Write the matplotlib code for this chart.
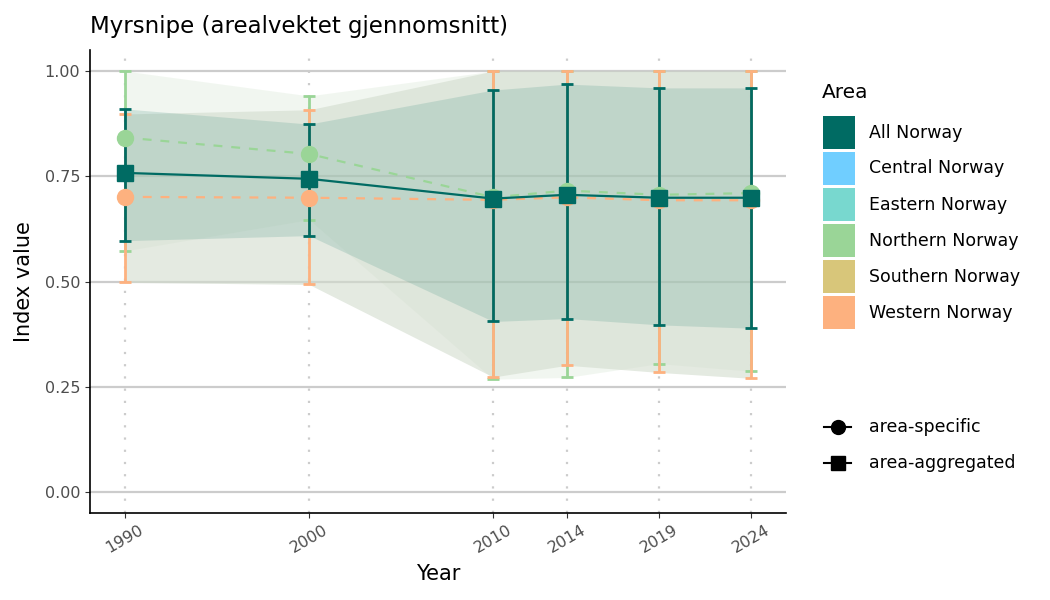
import matplotlib
matplotlib.use("Agg")
import matplotlib.pyplot as plt
from matplotlib.patches import Rectangle
from matplotlib.lines import Line2D

plt.rcParams['font.family'] = ['DejaVu Sans']

years = [1990, 2000, 2010, 2014, 2019, 2024]

all_mean = [0.758, 0.744, 0.697, 0.706, 0.699, 0.699]
all_lo = [0.597, 0.609, 0.405, 0.412, 0.397, 0.389]
all_hi = [0.910, 0.874, 0.955, 0.969, 0.960, 0.960]

north_mean = [0.842, 0.803, 0.700, 0.716, 0.706, 0.710]
north_lo = [0.573, 0.647, 0.268, 0.272, 0.305, 0.287]
north_hi = [1.000, 0.941, 1.000, 1.000, 1.000, 1.000]

west_mean = [0.701, 0.699, 0.694, 0.700, 0.693, 0.693]
west_lo = [0.498, 0.493, 0.273, 0.301, 0.284, 0.270]
west_hi = [0.898, 0.908, 1.000, 1.000, 1.000, 1.000]

area_names = ["All Norway", "Central Norway", "Eastern Norway",
              "Northern Norway", "Southern Norway", "Western Norway"]
area_colors = ["#006B63", "#70CEFF", "#78D8CF", "#9AD597", "#D8C67A", "#FDB17F"]

type_names = ["area-specific", "area-aggregated"]
type_markers = ["o", "s"]

title = "Myrsnipe (arealvektet gjennomsnitt)"

c_all = area_colors[0]
c_north = area_colors[3]
c_west = area_colors[5]

W, H = 1050, 600
fig = plt.figure(figsize=(10.5, 6), dpi=100)
ax = fig.add_axes([90/W, 1-513/H, (786-90)/W, (513-50)/H])

# grid
for yv in [0, 0.25, 0.5, 0.75, 1.0]:
    ax.axhline(yv, color="#CCCCCC", lw=1.6, zorder=0)
for xv in years:
    ax.axvline(xv, color="#CCCCCC", lw=1.6, ls=(0, (1, 4.5)), zorder=0)

# ribbons
ax.fill_between(years, north_lo, north_hi, color="#7FB070", alpha=0.1, lw=0, zorder=1)
ax.fill_between(years, west_lo, west_hi, color="#D2DCCD", alpha=0.6, lw=0, zorder=1)
ax.fill_between(years, all_lo, all_hi, color="#479385", alpha=0.2, lw=0, zorder=1)

# error bars
def eb(mean, lo, hi, color, z):
    ax.errorbar(years, mean,
                yerr=[[m - l for m, l in zip(mean, lo)], [h - m for m, h in zip(mean, hi)]],
                fmt='none', ecolor=color, elinewidth=2, capsize=4.5, capthick=2, zorder=z)

eb(north_mean, north_lo, north_hi, c_north, 2)
eb(west_mean, west_lo, west_hi, c_west, 3)
eb(all_mean, all_lo, all_hi, c_all, 4)

ax.plot(years, north_mean, color=c_north, lw=1.6, ls=(0, (4, 4)), zorder=5)
ax.plot(years, north_mean, color=c_north, lw=0, marker='o', ms=11.5, zorder=6)
ax.plot(years, west_mean, color=c_west, lw=1.6, ls=(0, (4, 4)), zorder=5)
ax.plot(years, west_mean, color=c_west, lw=0, marker='o', ms=11.5, zorder=6)
ax.plot(years, all_mean, color=c_all, lw=1.6, marker='s', ms=11, zorder=7)

ax.set_xlim(1988.1, 2025.9)
ax.set_ylim(-0.05, 1.05)
ax.set_xticks(years)
ax.set_xticklabels([str(y) for y in years], rotation=30, fontsize=11.5, color="#4D4D4D")
ax.set_yticks([0, 0.25, 0.5, 0.75, 1.0])
ax.set_yticklabels(["0.00", "0.25", "0.50", "0.75", "1.00"], fontsize=11.5, color="#4D4D4D")
ax.tick_params(axis='both', length=3.5, color="#333333", width=0.8)
for s in ["top", "right"]:
    ax.spines[s].set_visible(False)
for s in ["left", "bottom"]:
    ax.spines[s].set_linewidth(1.2)
ax.set_xlabel("Year", fontsize=15, labelpad=6)
ax.set_ylabel("Index value", fontsize=15, labelpad=8)
ax.set_title(title, loc="left", fontsize=16.5, pad=12)

# legend: Area (manual layout in figure pixels)
def fx(px):
    return px / W

def fy(py):
    return 1 - py / H

fig.text(fx(822), fy(92), "Area", fontsize=14.5, ha="left", va="center")
for i, (name, col) in enumerate(zip(area_names, area_colors)):
    top = 116 + 36 * i
    fig.add_artist(Rectangle((fx(823), fy(top + 33)), fx(32), 33 / H,
                             transform=fig.transFigure, facecolor=col, edgecolor="none"))
    fig.text(fx(869), fy(top + 16.5), name, fontsize=12.5, ha="left", va="center")

# legend: type
for i, (name, mk) in enumerate(zip(type_names, type_markers)):
    yc = 427 + 36 * i
    fig.add_artist(Line2D([fx(824), fx(851)], [fy(yc), fy(yc)], transform=fig.transFigure,
                          color="black", lw=1.5))
    fig.add_artist(Line2D([fx(837.5)], [fy(yc)], transform=fig.transFigure,
                          color="black", marker=mk, ms=10 if mk == "o" else 9.5, lw=0))
    fig.text(fx(869), fy(yc), name, fontsize=12.5, ha="left", va="center")

fig.savefig("out.png", dpi=100)
